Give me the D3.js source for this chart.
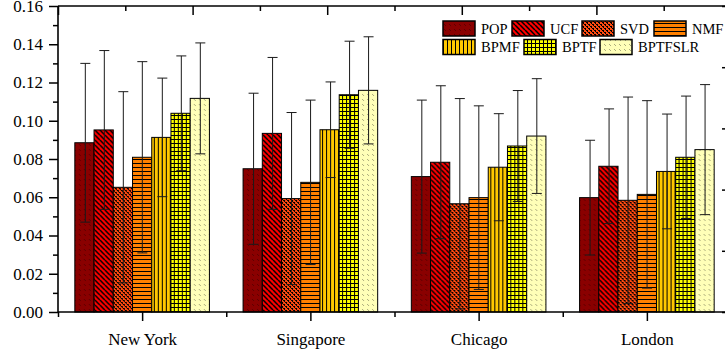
<!DOCTYPE html>
<html><head><meta charset="utf-8">
<script src="https://cdn.jsdelivr.net/npm/d3@7"></script>
<style>
html,body{margin:0;padding:0;background:#fff;}
svg{display:block;font-family:"Liberation Serif","Times New Roman",serif;}
</style></head>
<body>
<svg id="chart" width="725" height="349"></svg>
<script>
// ---- data ----
const categories = ["New York", "Singapore", "Chicago", "London"];
const seriesNames = ["POP", "UCF", "SVD", "NMF", "BPMF", "BPTF", "BPTFSLR"];
const popValues     = [0.0885, 0.0749, 0.0708, 0.0598];
const ucfValues     = [0.0952, 0.0934, 0.0783, 0.0762];
const svdValues     = [0.0652, 0.0593, 0.0566, 0.0584];
const nmfValues     = [0.0809, 0.0678, 0.0598, 0.0615];
const bpmfValues    = [0.0913, 0.0953, 0.0757, 0.0735];
const bptfValues    = [0.1039, 0.1136, 0.0868, 0.0809];
const bptfslrValues = [0.1117, 0.1159, 0.0920, 0.0849];
const popErr     = [0.0415, 0.0395, 0.0400, 0.0300];
const ucfErr     = [0.0415, 0.0397, 0.0400, 0.0300];
const svdErr     = [0.0500, 0.0450, 0.0550, 0.0540];
const nmfErr     = [0.0500, 0.0430, 0.0480, 0.0490];
const bpmfErr    = [0.0310, 0.0250, 0.0280, 0.0300];
const bptfErr    = [0.0300, 0.0280, 0.0290, 0.0320];
const bptfslrErr = [0.0290, 0.0280, 0.0300, 0.0340];
const yTicks = [0, 0.02, 0.04, 0.06, 0.08, 0.10, 0.12, 0.14, 0.16];

const valuesBySeries = [popValues, ucfValues, svdValues, nmfValues, bpmfValues, bptfValues, bptfslrValues];
const errBySeries = [popErr, ucfErr, svdErr, nmfErr, bpmfErr, bptfErr, bptfslrErr];

// ---- layout ----
const svg = d3.select("#chart");
const L = 58, R = 731, T = 6, B = 312;
const x0 = d3.scaleBand().domain(categories).range([L, R]).paddingInner(0.2).paddingOuter(0.1);
const x1 = d3.scaleBand().domain(seriesNames).range([0, x0.bandwidth()]).padding(0);
const y = d3.scaleLinear().domain([0, 0.16]).range([B, T]);

// ---- patterns ----
const defs = svg.append("defs");
function pat(id, w, h, bg, draw) {
  const p = defs.append("pattern").attr("id", id).attr("patternUnits", "userSpaceOnUse")
    .attr("width", w).attr("height", h);
  p.append("rect").attr("width", w).attr("height", h).attr("fill", bg);
  draw(p);
}
function diagUp(p, s) { // "/" lines
  [[-s, s, s, -s], [0, 2*s, 2*s, 0], [s, 3*s, 3*s, s]].forEach(c =>
    p.append("line").attr("x1", c[0]).attr("y1", c[1]).attr("x2", c[2]).attr("y2", c[3])
      .attr("stroke", "#000").attr("stroke-width", 1.2));
}
function diagDown(p, s) { // "\" lines
  [[-s, -s, s, s], [0, 0, s, s], [-s, 0, s, 2*s], [0, -s, 2*s, s]].forEach(c =>
    p.append("line").attr("x1", c[0]).attr("y1", c[1]).attr("x2", c[2]).attr("y2", c[3])
      .attr("stroke", "#000").attr("stroke-width", 1.2));
}
pat("pPOP", 5, 5, "#8a0000", p => diagUp(p, 5));
pat("pUCF", 5, 5, "#ff0000", p => diagDown(p, 5));
pat("pSVD", 4, 4, "#ff4a10", p => {
  p.append("rect").attr("x", 0).attr("y", 0).attr("width", 2).attr("height", 1).attr("fill", "#000").attr("shape-rendering", "crispEdges");
  p.append("rect").attr("x", 2).attr("y", 2).attr("width", 2).attr("height", 1).attr("fill", "#000").attr("shape-rendering", "crispEdges");
  p.append("rect").attr("x", 1).attr("y", 1).attr("width", 1).attr("height", 1).attr("fill", "#000").attr("shape-rendering", "crispEdges");
  p.append("rect").attr("x", 3).attr("y", 3).attr("width", 1).attr("height", 1).attr("fill", "#000").attr("shape-rendering", "crispEdges");
});
pat("pNMF", 4, 4, "#ff8000", p => {
  p.append("rect").attr("x", 0).attr("y", 3).attr("width", 4).attr("height", 1).attr("fill", "#000").attr("shape-rendering", "crispEdges");
});
pat("pBPMF", 4, 4, "#ffc800", p => {
  p.append("rect").attr("x", 3).attr("y", 0).attr("width", 1).attr("height", 4).attr("fill", "#000").attr("shape-rendering", "crispEdges");
});
pat("pBPTF", 4, 4, "#ffff00", p => {
  p.append("rect").attr("x", 3).attr("y", 0).attr("width", 1).attr("height", 4).attr("fill", "#000").attr("shape-rendering", "crispEdges");
  p.append("rect").attr("x", 0).attr("y", 3).attr("width", 4).attr("height", 1).attr("fill", "#000").attr("shape-rendering", "crispEdges");
});
pat("pBPTFSLR", 5, 5, "#ffffb8", p => diagUp(p, 5));
const fills = seriesNames.map(s => "url(#p" + s + ")");

// ---- bars ----
const groups = svg.append("g").selectAll("g").data(categories).join("g")
  .attr("transform", c => `translate(${x0(c)},0)`);
groups.each(function(c, ci) {
  const g = d3.select(this);
  seriesNames.forEach((s, si) => {
    const v = valuesBySeries[si][ci];
    g.append("rect").attr("x", x1(s)).attr("y", y(v))
      .attr("width", x1.bandwidth()).attr("height", y(0) - y(v))
      .attr("fill", fills[si]).attr("stroke", "#000").attr("stroke-width", 1);
  });
});
// error bars
groups.each(function(c, ci) {
  const g = d3.select(this);
  seriesNames.forEach((s, si) => {
    const v = valuesBySeries[si][ci], e = errBySeries[si][ci];
    const cx = Math.round(x1(s) + x1.bandwidth() / 2) + 0.5;
    const eb = g.append("g").attr("stroke", "#1a1a1a").attr("stroke-width", 1);
    eb.append("line").attr("x1", cx).attr("x2", cx).attr("y1", y(v + e)).attr("y2", y(v - e));
    eb.append("line").attr("x1", cx - 5).attr("x2", cx + 5).attr("y1", y(v + e)).attr("y2", y(v + e));
    eb.append("line").attr("x1", cx - 5).attr("x2", cx + 5).attr("y1", y(v - e)).attr("y2", y(v - e));
  });
});

// ---- axes ----
const axisStroke = 1.6;
const leftAx = svg.append("g").attr("transform", `translate(${L},0)`)
  .call(d3.axisLeft(y).tickValues(yTicks).tickFormat(d3.format(".2f")).tickSize(9).tickPadding(6));
leftAx.select(".domain").remove();
leftAx.selectAll(".tick line").attr("stroke-width", 1.5);
leftAx.selectAll("text").attr("font-size", "17px").attr("fill", "#000")
  .attr("font-family", "Liberation Serif, Times New Roman, serif");
const minorY = d3.range(0.01, 0.16, 0.02);
svg.append("g").attr("transform", `translate(${L},0)`)
  .call(d3.axisLeft(y).tickValues(minorY).tickFormat("").tickSize(5))
  .call(g => g.select(".domain").remove())
  .selectAll(".tick line").attr("stroke-width", 1.5);

const xc = d3.scaleLinear().domain([-0.5, categories.length - 0.5]).range([L, R]);
const bottomAx = svg.append("g").attr("transform", `translate(0,${B})`)
  .call(d3.axisBottom(xc).tickValues(d3.range(categories.length)).tickFormat(i => categories[i]).tickSize(9).tickPadding(12));
bottomAx.select(".domain").remove();
bottomAx.selectAll(".tick line").attr("stroke-width", 1.5);
bottomAx.selectAll("text").attr("font-size", "17px").attr("fill", "#000")
  .attr("font-family", "Liberation Serif, Times New Roman, serif");
svg.append("g").attr("transform", `translate(0,${B})`)
  .call(d3.axisBottom(xc).tickValues(d3.range(categories.length + 1).map(i => i - 0.5)).tickFormat("").tickSize(5))
  .call(g => g.select(".domain").remove())
  .selectAll(".tick line").attr("stroke-width", 1.5);

const xt = d3.scaleLinear().domain([0, 10]).range([L, R]);
svg.append("g").attr("transform", `translate(0,${T})`)
  .call(d3.axisTop(xt).tickValues([0, 2, 4, 6, 8, 10]).tickFormat("").tickSize(-9))
  .call(g => g.select(".domain").remove())
  .selectAll(".tick line").attr("stroke-width", 1.5);
svg.append("g").attr("transform", `translate(0,${T})`)
  .call(d3.axisTop(xt).tickValues([1, 3, 5, 7, 9]).tickFormat("").tickSize(-5))
  .call(g => g.select(".domain").remove())
  .selectAll(".tick line").attr("stroke-width", 1.5);

const yr = d3.scaleLinear().domain([0, 5]).range([B, T]);
svg.append("g").attr("transform", `translate(${R},0)`)
  .call(d3.axisRight(yr).tickValues(d3.range(6)).tickFormat("").tickSize(-9))
  .call(g => g.select(".domain").remove())
  .selectAll(".tick line").attr("stroke-width", 1.5);

const frame = svg.append("g").attr("stroke", "#000").attr("stroke-width", axisStroke).attr("fill", "none");
frame.append("line").attr("x1", L).attr("x2", R).attr("y1", B).attr("y2", B);
frame.append("line").attr("x1", L).attr("x2", R).attr("y1", T).attr("y2", T);
frame.append("line").attr("x1", L).attr("x2", L).attr("y1", T).attr("y2", B);
frame.append("line").attr("x1", R).attr("x2", R).attr("y1", T).attr("y2", B);

// ---- legend ----
const legendPos = [[443, 21], [512, 21], [582, 21], [654, 21], [443, 39.5], [524, 39.5], [600, 39.5]];
const leg = svg.append("g");
seriesNames.forEach((s, i) => {
  const [lx, ly] = legendPos[i];
  leg.append("rect").attr("x", lx).attr("y", ly).attr("width", 32).attr("height", 15)
    .attr("fill", fills[i]).attr("stroke", "#000").attr("stroke-width", 1.5);
  leg.append("text").attr("x", lx + 38).attr("y", ly + 12.5).attr("font-size", "14.5px")
    .attr("fill", "#000").text(s);
});
</script>
</body></html>
